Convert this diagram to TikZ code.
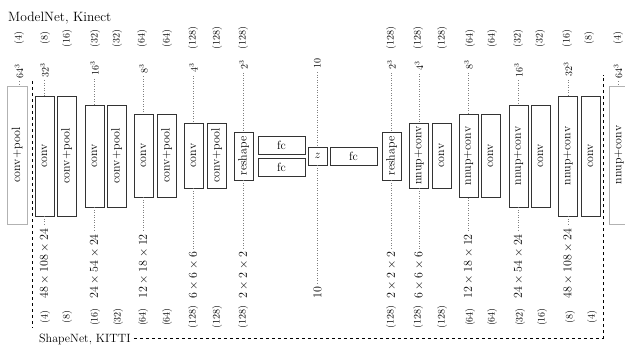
\documentclass[tikz,border=0pt]{standalone}
\usepackage{graphicx}
\newcommand{\myrot}[1]{\rotatebox{90}{#1}}
\begin{document}
\begin{tikzpicture}[x=1pt,y=-1pt,
  blk/.style={draw=black!80, line width=0.6pt, fill=white, inner sep=0pt, minimum width=19pt, font=\fontsize{12}{14}\selectfont},
  gblk/.style={blk, draw=black!30, minimum width=20pt},
  wblk/.style={blk, minimum width=47pt, minimum height=18pt},
  dim/.style={inner sep=0pt, font=\fontsize{12}{14}\selectfont},
  tdim/.style={inner sep=0pt, font=\fontsize{10}{12}\selectfont},
  ch/.style={inner sep=0pt, font=\fontsize{10}{12}\selectfont},
  ttl/.style={inner sep=0pt, font=\fontsize{13.5}{16}\selectfont},
  ttlb/.style={inner sep=0pt, font=\fontsize{12}{14}\selectfont},
  dots/.style={dotted, draw=black!50, line width=0.5pt},
  dsh/.style={dashed, line width=0.6pt}
]
\useasboundingbox (0,0) rectangle (625,345);

% boxes
\node[gblk, minimum height=138pt] (g1) at (17,155) {\myrot{conv+pool}};
\node[blk, minimum height=120pt] (a1) at (44.5,156) {\myrot{conv}};
\node[blk, minimum height=120pt] (a2) at (66.5,156) {\myrot{conv+pool}};
\node[blk, minimum height=102pt] (b1) at (94.5,156) {\myrot{conv}};
\node[blk, minimum height=102pt] (b2) at (116.5,156) {\myrot{conv+pool}};
\node[blk, minimum height=83pt] (c1) at (143.5,155.5) {\myrot{conv}};
\node[blk, minimum height=83pt] (c2) at (166.5,155.5) {\myrot{conv+pool}};
\node[blk, minimum height=65pt] (d1) at (193.5,155.5) {\myrot{conv}};
\node[blk, minimum height=65pt] (d2) at (216.5,155.5) {\myrot{conv+pool}};
\node[blk, minimum height=48pt] (r1) at (243.5,156) {\myrot{reshape}};
\node[wblk] (f1) at (281.5,145) {fc};
\node[wblk] (f2) at (281.5,167) {fc};
\node[blk, minimum height=18pt] (z) at (317.5,156) {$z$};
\node[wblk] (f3) at (353.5,156) {fc};
\node[blk, minimum height=48pt] (r2) at (391.5,156) {\myrot{reshape}};
\node[blk, minimum height=65pt] (e1) at (419,155.5) {\myrot{nnup+conv}};
\node[blk, minimum height=65pt] (e2) at (441.5,155.5) {\myrot{conv}};
\node[blk, minimum height=83pt] (h1) at (468.5,156) {\myrot{nnup+conv}};
\node[blk, minimum height=83pt] (h2) at (490.5,156) {\myrot{conv}};
\node[blk, minimum height=102pt] (i1) at (518.5,156) {\myrot{nnup+conv}};
\node[blk, minimum height=102pt] (i2) at (540.5,156) {\myrot{conv}};
\node[blk, minimum height=120pt] (j1) at (568,156) {\myrot{nnup+conv}};
\node[blk, minimum height=120pt] (j2) at (590.5,156) {\myrot{conv}};
\node[gblk, minimum height=138pt] (g2) at (619,155) {\myrot{nnup+conv}};

% top size labels
\node[tdim] (tg1) at (19,71) {\myrot{$64^3$}};
\node[tdim] (ta1) at (44.5,70) {\myrot{$32^3$}};
\node[tdim] (tb1) at (94.5,68.5) {\myrot{$16^3$}};
\node[tdim] (tc1) at (143.5,68.5) {\myrot{$8^3$}};
\node[tdim] (td1) at (193.5,68) {\myrot{$4^3$}};
\node[tdim] (tr1) at (243.5,65) {\myrot{$2^3$}};
\node[tdim] (tz) at (317.5,64) {\myrot{$10$}};
\node[tdim] (tr2) at (391.5,65) {\myrot{$2^3$}};
\node[tdim] (te1) at (419,66) {\myrot{$4^3$}};
\node[tdim] (th1) at (468.5,65) {\myrot{$8^3$}};
\node[tdim] (ti1) at (518.5,70) {\myrot{$16^3$}};
\node[tdim] (tj1) at (568,69.5) {\myrot{$32^3$}};
\node[tdim] (tg2) at (618,71) {\myrot{$64^3$}};

\foreach \t/\b in {tg1/g1, ta1/a1, tb1/b1, tc1/c1, td1/d1, tr1/r1, tz/z, tr2/r2, te1/e1, th1/h1, ti1/i1, tj1/j1, tg2/g2}
  \draw[dots] ([yshift=-3pt]\t.south) -- (\t.south |- \b.north);

% bottom size labels
\node[dim, anchor=south] (ba1) at (44.5,299) {\myrot{$48\times108\times24$}};
\node[dim, anchor=south] (bb1) at (94.5,299) {\myrot{$24\times54\times24$}};
\node[dim, anchor=south] (bc1) at (143.5,299) {\myrot{$12\times18\times12$}};
\node[dim, anchor=south] (bd1) at (193.5,299) {\myrot{$6\times6\times6$}};
\node[dim, anchor=south] (br1) at (243.5,299) {\myrot{$2\times2\times2$}};
\node[dim, anchor=south] (bz) at (317.5,299) {\myrot{$10$}};
\node[dim, anchor=south] (br2) at (391.5,299) {\myrot{$2\times2\times2$}};
\node[dim, anchor=south] (be1) at (419,299) {\myrot{$6\times6\times6$}};
\node[dim, anchor=south] (bh1) at (468.5,299) {\myrot{$12\times18\times12$}};
\node[dim, anchor=south] (bi1) at (518.5,299) {\myrot{$24\times54\times24$}};
\node[dim, anchor=south] (bj1) at (568,299) {\myrot{$48\times108\times24$}};

\foreach \t/\b in {ba1/a1, bb1/b1, bc1/c1, bd1/d1, br1/r1, bz/z, br2/r2, be1/e1, bh1/h1, bi1/i1, bj1/j1}
  \draw[dots] (\b.south) -- ([yshift=3pt]\b.south |- \t.north);

% channel labels, top row
\foreach \x/\n [count=\i] in {19/4, 45/8, 67/16, 95/32, 117/32, 142/64, 167/64, 193/128, 217/128, 243/128,
  391/128, 418/128, 442/128, 470/64, 492/64, 518/32, 540/32, 567/16, 589/8, 618/4}
  \node[ch] (ct\i) at (\x,38.5) {\myrot{(\n)}};
% channel labels, bottom row
\foreach \x/\n [count=\i] in {45/4, 67/8, 95/16, 118/32, 143/64, 167/64, 193/128, 217/128, 243/128,
  391/128, 418/128, 442/128, 470/64, 492/64, 520/32, 542/16, 570/8, 592/4}
  \node[ch] (cb\i) at (\x,317) {\myrot{(\n)}};

% titles and dashed frame
\node[ttl, anchor=base west] (mn) at (8,22) {ModelNet, Kinect};
\node[ttlb, anchor=base west] (sn) at (39,342) {ShapeNet, KITTI};
\coordinate (ltop) at (32,81);
\coordinate (lbot) at (32,328);
\coordinate (rbot) at (603,338);
\coordinate (rtop) at (603,75);
\draw[dsh] (ltop) -- (lbot);
\draw[dsh] ([xshift=3pt]sn.east |- rbot) -- (rbot) -- (rtop);
\end{tikzpicture}
\end{document}
